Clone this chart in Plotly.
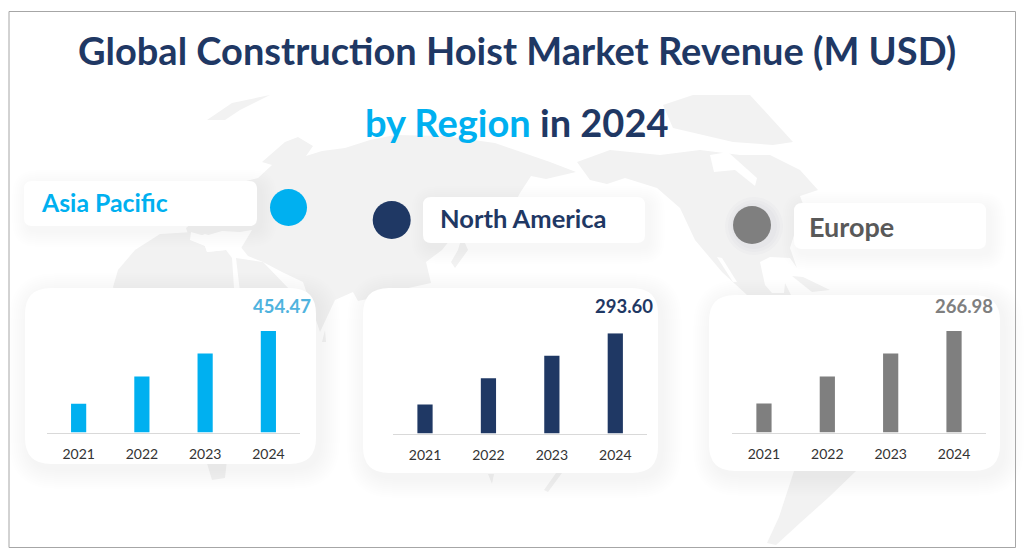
import plotly.graph_objects as go

W, H = 1024, 560

# ---------- data ----------
years = ["2021", "2022", "2023", "2024"]
asia_pacific = [129, 251, 354, 454.47]
north_america = [85, 162, 228, 293.60]
europe = [76, 147, 208, 266.98]
regions = ["Asia Pacific", "North America", "Europe"]
value_labels = ["454.47", "293.60", "266.98"]
title_line_1 = "Global Construction Hoist Market Revenue (M USD)"
title_blue = "by Region"
title_dark = " in 2024"

BLUE, NAVY, GREY = "#00B0F0", "#1F3864", "#7F7F7F"
FONT = "Lato"
LAND = "#F2F2F2"


def px(x):
    return x / W


def py(y):
    return 1 - y / H


def rrect(x0, y0, x1, y1, r):
    X0, X1, Y0, Y1 = px(x0), px(x1), py(y0), py(y1)
    rx, ry = r / W, r / H
    return (f"M {X0+rx},{Y0} L {X1-rx},{Y0} Q {X1},{Y0} {X1},{Y0-ry} "
            f"L {X1},{Y1+ry} Q {X1},{Y1} {X1-rx},{Y1} L {X0+rx},{Y1} "
            f"Q {X0},{Y1} {X0},{Y1+ry} L {X0},{Y0-ry} Q {X0},{Y0} {X0+rx},{Y0} Z")


def poly(points):
    return "M " + " L ".join(f"{px(x)},{py(y)}" for x, y in points) + " Z"


shapes = []

# ---------- decorative world map ----------
land = [
    # Eurasia
    [(190, 240), (186, 228), (205, 212), (224, 203), (234, 184), (258, 178), (272, 165), (262, 162),
     (285, 142), (298, 137), (313, 146), (306, 156), (322, 151), (345, 148), (370, 140), (395, 135),
     (445, 136), (495, 143), (550, 162), (576, 172), (546, 179), (531, 176), (520, 193), (510, 212),
     (492, 205), (472, 206), (458, 230), (442, 250), (426, 262), (431, 283), (395, 291), (372, 298),
     (358, 301), (353, 292), (335, 300), (320, 332), (303, 282), (282, 272), (263, 262), (248, 256),
     (240, 246), (225, 240), (205, 234)],
    # Africa
    [(113, 287), (118, 270), (135, 250), (160, 234), (193, 232), (205, 246), (207, 252), (226, 250),
     (232, 258), (234, 288), (255, 300), (240, 340), (225, 478), (212, 480), (200, 440), (170, 340), (125, 310)],
    # Arabia
    [(236, 258), (263, 262), (292, 292), (240, 292)],
    # Madagascar
    [(325, 330), (326, 342), (322, 342)],
    # Japan
    [(462, 236), (468, 250), (455, 268), (451, 262), (458, 250)],
    # Svalbard / Arctic Europe
    [(207, 120), (232, 103), (270, 95), (240, 110), (225, 120)],
    # Arctic Canada and Greenland
    [(663, 105), (693, 95), (750, 95), (793, 142), (773, 145), (733, 142), (673, 128)],
    # North America
    [(577, 162), (610, 150), (660, 155), (700, 150), (740, 155), (770, 155), (800, 170), (818, 190),
     (800, 196), (806, 212), (795, 232), (790, 248), (797, 268), (790, 258), (770, 257), (760, 262),
     (765, 285), (772, 293), (784, 293), (785, 283), (791, 295), (747, 295), (722, 272), (695, 240),
     (680, 208), (657, 188), (625, 178), (607, 184), (590, 180)],
    # Cuba
    [(792, 276), (803, 277), (830, 290), (812, 292)],
    # South America
    [(794, 471), (856, 471), (829, 497), (800, 523), (776, 545), (767, 543), (779, 517)],
    # Indonesia fragments
    [(556, 473), (562, 473), (548, 492), (544, 490)],
    [(488, 474), (494, 474), (492, 484)],
]
for pts in land:
    shapes.append(dict(type="path", path=poly(pts), xref="paper", yref="paper", layer="below",
                       fillcolor=LAND, line=dict(width=0)))
# Hudson Bay
shapes.append(dict(type="path", path=poly([(710, 155), (728, 152), (757, 178), (755, 186), (735, 170), (714, 172)]),
                   xref="paper", yref="paper", layer="below", fillcolor="white", line=dict(width=0)))
# Baja sliver
shapes.append(dict(type="path", path=poly([(717, 257), (722, 258), (737, 282), (733, 282)]),
                   xref="paper", yref="paper", layer="below", fillcolor="white", line=dict(width=0)))
# Mediterranean
shapes.append(dict(type="path", path=poly([(191, 232), (205, 236), (222, 231), (240, 232), (252, 230), (240, 250),
                                           (226, 250), (207, 252), (205, 246), (190, 240)]),
                   xref="paper", yref="paper", layer="below", fillcolor="white", line=dict(width=0)))


def soft_card(x0, y0, x1, y1, r, spread=20, dx=4, dy=5, alpha=0.0045):
    for k in range(spread, 0, -2):
        shapes.append(dict(type="path", path=rrect(x0 + dx - k, y0 + dy - k, x1 + dx + k, y1 + dy + k, r + k),
                           xref="paper", yref="paper", layer="below",
                           fillcolor=f"rgba(0,0,0,{alpha})", line=dict(width=0)))
    shapes.append(dict(type="path", path=rrect(x0, y0, x1, y1, r), xref="paper", yref="paper", layer="below",
                       fillcolor="white", line=dict(width=0)))


def dot(cx, cy, r, color):
    shapes.append(dict(type="circle", xref="paper", yref="paper", layer="below",
                       x0=px(cx - r), x1=px(cx + r), y0=py(cy + r), y1=py(cy - r),
                       fillcolor=color, line=dict(width=0)))


# cards
soft_card(25, 288, 316, 464, 26)
soft_card(363, 288, 658, 473, 26)
soft_card(709, 295, 1000, 471, 26)
# pills
soft_card(24, 181, 257, 226, 8, spread=16)
soft_card(423, 197, 645, 243, 8, spread=16)
soft_card(794, 203, 986, 249, 8, spread=16)
# soft halo behind the grey dot
for k in (10, 7, 4):
    dot(754, 226, 19 + k, "rgba(60,60,90,0.02)")
dot(288.5, 207.5, 18.5, BLUE)
dot(391.7, 220, 19, NAVY)
dot(752, 225, 19, GREY)

# frame
shapes.append(dict(type="rect", xref="paper", yref="paper", layer="above",
                   x0=px(9), x1=px(1015.5), y0=py(547.5), y1=py(11.5),
                   line=dict(color="#A6A6A6", width=1), fillcolor="rgba(0,0,0,0)"))

fig = go.Figure()

panels = [
    (asia_pacific, BLUE, "#4FB3DE", 47, 300, 432.5, 331, 45, value_labels[0]),
    (north_america, NAVY, NAVY, 393.3, 647, 433.5, 333.3, 40, value_labels[1]),
    (europe, GREY, GREY, 732.3, 985.7, 432.5, 331, 41, value_labels[2]),
]
layout_axes = {}
annotations = []
for i, (vals, col, lab_col, xl, xr, base, top, lab_dx, lab) in enumerate(panels, start=1):
    suffix = "" if i == 1 else str(i)
    fig.add_trace(go.Bar(x=years, y=vals, marker=dict(color=col, line=dict(width=0)),
                         xaxis=f"x{suffix}", yaxis=f"y{suffix}", showlegend=False, hoverinfo="x+y"))
    layout_axes[f"xaxis{suffix}"] = dict(
        domain=[px(xl), px(xr)], anchor=f"y{suffix}", type="category", categoryorder="array", categoryarray=years,
        range=[-0.5, len(years) - 0.5], showgrid=False, zeroline=False,
        showline=True, linecolor="#D9D9D9", linewidth=1, ticks="outside", ticklen=9,
        tickcolor="rgba(0,0,0,0)", tickfont=dict(family=FONT, size=14, color="#333333"), fixedrange=True)
    layout_axes[f"yaxis{suffix}"] = dict(
        domain=[py(base), py(top)], anchor=f"x{suffix}", range=[0, max(vals)], visible=False, fixedrange=True)
    annotations.append(dict(x=len(years) - 1, y=vals[-1], xref=f"x{suffix}", yref=f"y{suffix}", text=f"<b>{lab}</b>",
                            showarrow=False, xanchor="right", yanchor="middle", xshift=lab_dx,
                            yshift=(top - 306), font=dict(family=FONT, size=18.5, color=lab_col)))


def text_at(x, y, text, size, color, anchor="left"):
    annotations.append(dict(x=px(x), y=py(y), xref="paper", yref="paper", text=text, showarrow=False,
                            xanchor=anchor, yanchor="middle", font=dict(family=FONT, size=size, color=color)))


text_at(516.5, 50, f"<b>{title_line_1}</b>", 38, NAVY, "center")
text_at(517, 122, f"<b><span style='color:{BLUE}'>{title_blue}</span>{title_dark}</b>", 38, NAVY, "center")
text_at(39, 202.5, f"<b>{regions[0]}</b>", 24.8, BLUE)
text_at(438, 218, f"<b>{regions[1]}</b>", 25.5, NAVY)
text_at(807, 226, f"<b>{regions[2]}</b>", 27, "#595959")

fig.update_layout(width=W, height=H, margin=dict(l=0, r=0, t=0, b=0, pad=0), paper_bgcolor="white",
                  plot_bgcolor="rgba(0,0,0,0)", bargap=0.76, showlegend=False,
                  shapes=shapes, annotations=annotations, **layout_axes)

fig.write_html("out.html", config=dict(displayModeBar=False),
               post_script="document.body.style.margin='0';document.body.style.overflow='hidden';")
